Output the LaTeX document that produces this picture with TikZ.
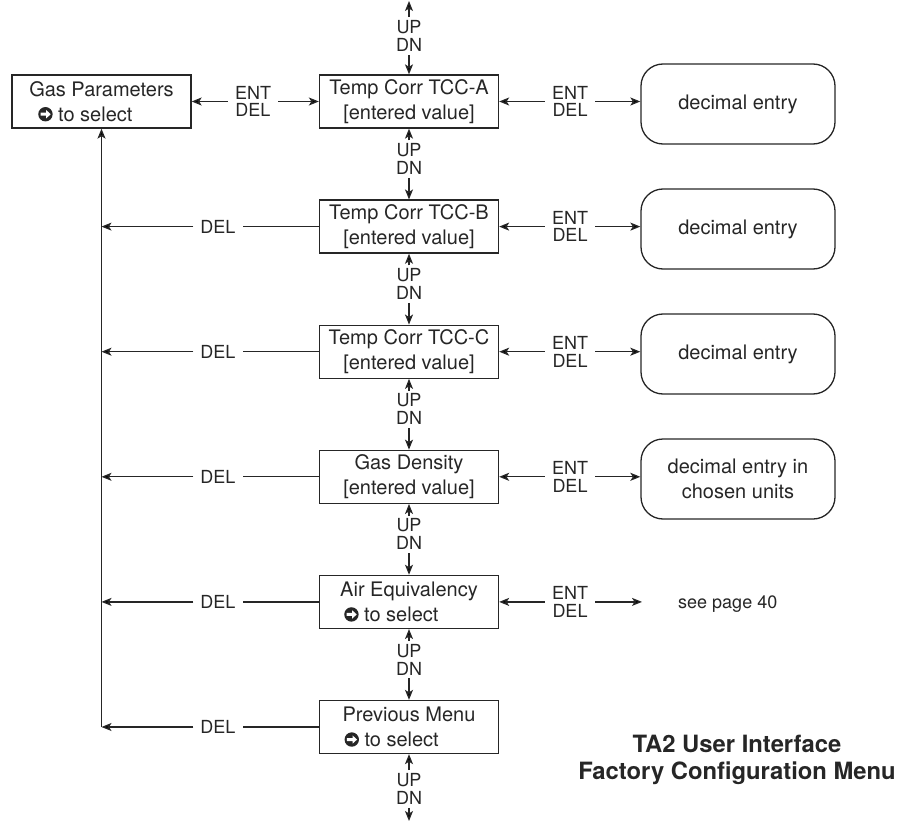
\documentclass[tikz,border=0pt]{standalone}
\usepackage{fontspec}
\setmainfont{TeX Gyre Heros}
\usetikzlibrary{arrows.meta,calc}
\definecolor{ink}{HTML}{262626}
\newcommand{\selicon}{\tikz[baseline=-0.5pt]{%
  \fill[ink] (0pt,6.6pt) circle[radius=7.2pt];
  \fill[white] (-4.8pt,5.1pt) -- (0.8pt,5.1pt) -- (0.8pt,2.5pt) -- (5.3pt,6.6pt) -- (0.8pt,10.7pt) -- (0.8pt,8.1pt) -- (-4.8pt,8.1pt) -- cycle;}}
\tikzset{
  mainbox/.style={draw=ink, line width=1.3pt, minimum width=179pt, minimum height=53pt,
    inner sep=0pt, align=center, text=ink, font=\fontsize{20}{25}\selectfont},
  selbox/.style={mainbox, align=left},
  rbox/.style={draw=ink, line width=1.3pt, rounded corners=22pt, minimum width=194pt,
    minimum height=80pt, inner sep=0pt, align=center, text=ink, font=\fontsize{20}{25}\selectfont},
  lbl/.style={inner xsep=7pt, inner ysep=1pt, align=center, text=ink, font=\fontsize{18}{17.5}\selectfont},
  udl/.style={inner xsep=2pt, inner ysep=3pt, align=center, text=ink, font=\fontsize{18}{18}\selectfont},
  conn/.style={draw=ink, line width=1.3pt},
  arr/.style={conn, -{Stealth[length=10pt,width=8pt,inset=2.5pt]}},
  rarr/.style={conn, {Stealth[length=10pt,width=8pt,inset=2.5pt]}-},
}
\begin{document}
\begin{tikzpicture}[x=1pt,y=-1pt]
\useasboundingbox (0,0) rectangle (900,824);
% main column
\node[selbox] (gp) at (101.5,101.5) {Gas Parameters\\\hspace*{9pt}\selicon{} to select};
\node[mainbox] (a) at (409,101.5) {Temp Corr TCC-A\\{}[entered value]};
\node[mainbox] (b) at (409,226.6) {Temp Corr TCC-B\\{}[entered value]};
\node[mainbox] (c) at (409,351.7) {Temp Corr TCC-C\\{}[entered value]};
\node[mainbox] (d) at (409,476.8) {Gas Density\\{}[entered value]};
\node[selbox] (e) at (409,601.9) {Air Equivalency\\\hspace*{4pt}\selicon{} to select};
\node[selbox] (f) at (409,727) {Previous Menu\\\hspace*{2pt}\selicon{} to select};
% right side
\node[rbox] (ra) at (738,104) {decimal entry};
\node[rbox] (rb) at (738,229) {decimal entry};
\node[rbox] (rc) at (738,354) {decimal entry};
\node[rbox] (rd) at (738,479) {decimal entry in\\chosen units};
\node[lbl, anchor=west, inner xsep=0pt] (re) at (678,604) {see page 40};
\coordinate (reend) at (642,601.9);
% ENT/DEL right
\foreach \n/\r in {a/ra,b/rb,c/rc,d/rd}{
  \node[lbl] (ent\n) at (570,0 |- \n) {ENT\\DEL};
  \draw[rarr] (\n.east) -- (ent\n.west);
  \draw[arr] (ent\n.east) -- (\r.west |- ent\n);
}
\node[lbl] (ente) at (570,0 |- e) {ENT\\DEL};
\draw[rarr] (e.east) -- (ente.west);
\draw[arr] (ente.east) -- (reend);
% ENT/DEL left
\node[lbl] (entgp) at (253,101.5) {ENT\\DEL};
\draw[arr] (entgp.west) -- (gp.east);
\draw[arr] (entgp.east) -- (a.west);
% DEL return
\foreach \n in {b,c,d,e,f}{
  \node[lbl] (del\n) at (218,0 |- \n) {DEL};
  \coordinate (j\n) at (101.5,0 |- \n);
  \draw[conn] (\n.west) -- (del\n.east);
  \draw[arr] (del\n.west) -- (j\n);
}
\draw[arr] (jf) -- (gp.south);
% UP/DN
\node[udl] (ud0) at (409,36) {UP\\DN};
\coordinate (top) at (409,1);
\draw[arr] (ud0.north) -- (top);
\draw[arr] (ud0.south) -- (a.north);
\foreach \u/\l [count=\i] in {a/b,b/c,c/d,d/e,e/f}{
  \node[udl] (ud\i) at ($(\u.south)!0.43!(\l.north)$) {UP\\DN};
  \draw[arr] (ud\i.north) -- (\u.south);
  \draw[arr] (ud\i.south) -- (\l.north);
}
\node[udl] (ud6) at (409,789) {UP\\DN};
\coordinate (bot) at (409,821);
\draw[arr] (ud6.north) -- (f.south);
\draw[arr] (ud6.south) -- (bot);
% title
\node[align=center, text=ink, font=\fontsize{23.8}{27}\selectfont\bfseries] (title) at (737,760)
  {TA2 User Interface\\Factory Configuration Menu};
\end{tikzpicture}
\end{document}
